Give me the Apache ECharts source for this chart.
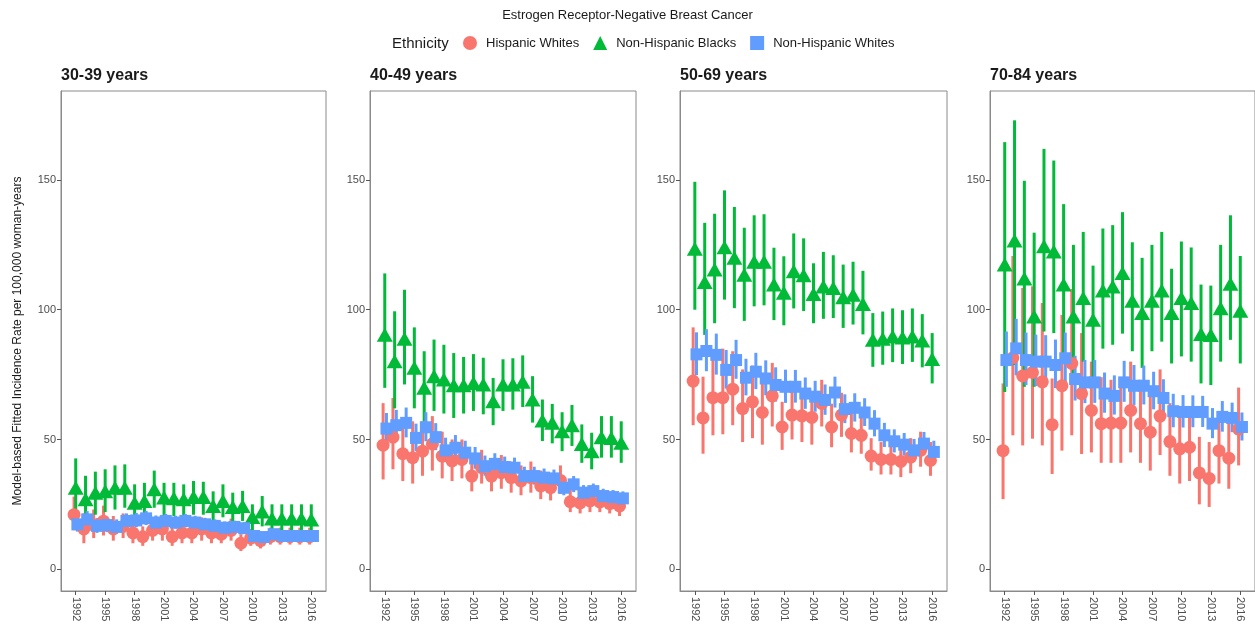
<!DOCTYPE html>
<html>
<head>
<meta charset="utf-8">
<script src="https://cdn.jsdelivr.net/npm/echarts@6/dist/echarts.min.js"></script>
<style>html,body{margin:0;padding:0;background:#fff;}#chart{width:1255px;height:629px;}</style>
</head>
<body>
<div id="chart"></div>
<script>
const years = [1992,1993,1994,1995,1996,1997,1998,1999,2000,2001,2002,2003,2004,2005,2006,2007,2008,2009,2010,2011,2012,2013,2014,2015,2016];
const xTickYears = [1992,1995,1998,2001,2004,2007,2010,2013,2016];
const yTicks = [0,50,100,150];
const panelTitles = ['30-39 years','40-49 years','50-69 years','70-84 years'];
const seriesNames = ['Hispanic Whites','Non-Hispanic Blacks','Non-Hispanic Whites'];

// 30-39 years
const hw30 = [21,15.5,17,18.5,15.5,16.5,14,12.5,15,15.5,12.5,14,14,15.5,14,13.5,15,10,12,11,12.5,12.5,12.5,12.5,12.5];
const hw30Lo = [15,10,12,13,11,12,10,9,11,11,9,10,10,11,10,10,11,7,9,8,9.5,9.5,9.5,9.5,9.5];
const hw30Hi = [28,21.5,23,24.5,20.5,21.5,18.5,16.5,19.5,20,16.5,18,18,20,18,17.5,19.5,13.5,15.5,14,16,16,16,16,16];
const nhb30 = [31.4,27,29.5,30,31.4,31.4,25.6,26.3,30.8,27.6,27.3,27,27.8,27.8,24.4,26.3,24,24.4,20.1,22.2,19.5,19.5,19.5,19.5,19.2];
const nhb30Lo = [22,20,21,22,23,23.7,18.6,19,23.7,20.5,20.5,20.5,21,21,18.6,20,18,18.6,14.7,16.5,14.7,14.7,14.7,14.7,14.7];
const nhb30Hi = [42.7,36,37.6,38.5,40,40.4,32.7,33.3,38,33.3,33.3,32.7,34,33.7,30,32.7,29.5,30.2,25,28.2,25,25,25,25,25];
const nhw30 = [17.3,19.2,16.7,17,16.3,18.6,18.8,19.6,18,18.6,18,18.6,18,17.3,16.7,16,16.3,15.8,12.8,12.4,13.5,12.8,12.8,12.8,12.8];
const nhw30Lo = [14.5,16.3,14,14.3,13.7,16,16.2,17,15.6,16.1,15.6,16.1,15.6,15,14.5,13.8,14.1,13.7,11,10.7,11.7,11,11.1,11.1,11.2];
const nhw30Hi = [20.4,22.4,19.7,20,19.2,21.5,21.7,22.5,20.7,21.3,20.6,21.3,20.6,19.8,19.2,18.4,18.7,18.1,14.8,14.3,15.5,14.7,14.7,14.7,14.6];

// 40-49 years
const hw40 = [47.8,50.9,44.5,43,45.5,48.3,43.6,41.7,42.3,35.9,39.1,35.9,37.2,35.3,34,35.3,32.1,31.4,34.2,26,25.6,26.3,25.9,25.3,24.4];
const hw40Lo = [34.6,38.5,34,33,36,38,35,34,35,30,33,30,31,29.5,28.5,29.5,27,26.5,29,22,21.5,22,22,21.5,20.5];
const hw40Hi = [64,66,58.3,57,57,59,53,50,50,42,46,42,44,41.5,40,41.5,38,37,40,30.5,30,30.8,30.3,29.5,28.5];
const nhb40 = [90.4,80.1,88.8,77.6,69.9,74.4,73.1,70.9,70.9,71.8,71.2,64.7,71.2,71.2,72.2,65.4,57.3,56.4,53.2,55.5,48.3,45.5,50.9,50.6,48.7];
const nhb40Lo = [69.9,62,71.2,62,57,61,60,58.3,60,61,59.7,55.5,61,61.5,62.5,56.5,49.4,48.5,45.5,47.5,41,38.5,43,43,41];
const nhb40Hi = [114,99.4,107.7,93.2,84,88.5,86.5,83.3,81.8,82.9,81.5,73.7,80.9,81.3,82.4,74.4,65.4,63.7,60.5,63.3,55.8,52.6,59,59,57];
const nhw40 = [54.2,55.5,56.4,50.6,54.7,50.9,45.8,46.8,44.9,42.7,39.7,40.6,39.4,39.1,35.9,35.9,35.3,35,31.4,32.7,29.5,30.1,28.2,27.8,27.3];
const nhw40Lo = [48.5,50,50.8,45.5,49.3,45.9,41.3,42.3,40.6,38.7,36,36.8,35.7,35.5,32.5,32.6,32,31.8,28.5,29.7,26.8,27.4,25.6,25.3,24.8];
const nhw40Hi = [60.2,61.4,62.3,56.1,60.5,56.3,50.7,51.7,49.5,47.1,43.8,44.7,43.4,43,39.5,39.5,38.8,38.4,34.5,35.9,32.4,33,31,30.5,30];

// 50-69 years
const hw50 = [72.5,58.3,66.1,66.1,69.4,61.9,64.5,60.4,66.8,54.8,59.4,59.1,58.5,63.9,54.8,59.4,52.3,51.6,43.6,42.3,42.3,41.5,43.2,45.8,41.9];
const hw50Lo = [55.5,44.5,51.6,52,55.5,49,50.5,48,55,46,50,49,48,55,47,51,45,44.5,38,36.5,36.5,35.5,37,39.5,36];
const hw50Hi = [93.2,74.2,84.5,85,84,77,78.5,75.7,79.5,64.5,69.6,69,68,73,63.8,68,61,60,50.5,49,49,48,50.5,53,49];
const nhb50 = [123.5,110.7,115.5,124.1,120,113.5,118.5,118.5,109.7,106.5,114.8,113.3,106.1,109,108.4,104.8,105.8,102.2,88.4,88.8,89.7,89.3,89.7,88.1,81];
const nhb50Lo = [100,90.3,94.8,103.9,100.6,95.7,101.3,101.7,96,94,100.5,99.5,94.8,96.5,96.8,93,94.3,90.5,78,78.8,79.8,79.1,79.9,77.8,71.6];
const nhb50Hi = [149.3,133.5,137,146,139.6,131.6,136.4,136.8,123.9,120.6,129.4,127.5,117.9,122.3,121,117.4,118.5,115,98.7,99.3,100.5,99.8,100.5,98.3,91];
const nhw50 = [82.8,84.1,82.6,76.8,80.6,73.8,76.1,73.5,71,70.3,70.3,67.7,66.5,65.2,68.1,61.7,62.2,60.4,56.1,51.6,49.3,48,45.8,48.4,45.2];
const nhw50Lo = [74.8,76.3,75,69.6,73.4,67,69.4,67,64.6,64.1,64.2,61.8,60.7,59.5,62.3,56.3,56.9,55.2,51.2,47.1,45,43.8,41.7,44.2,41.2];
const nhw50Hi = [91.3,92.5,90.8,84.5,88.4,81.1,83.4,80.5,77.8,76.9,76.8,73.9,72.6,71.2,74.2,67.4,67.8,65.9,61.3,56.4,53.9,52.5,50.2,52.9,49.5];

// 70-84 years
const hw70 = [45.7,81.5,74.5,75.8,72.2,55.7,70.7,79.3,67.7,61.2,56.1,56.3,56.3,61.2,56.1,52.8,59,49.2,46.4,47,37.1,35,45.7,42.8,54];
const hw70Lo = [27,51.6,47.7,50.3,47.7,36.7,45.7,51.6,44.4,45,41,41,41,45,41,38,44,36,33,34,25,24,33,31,40];
const hw70Hi = [71.6,120.7,108.4,109,102.6,73.5,98,108,91,80,74,73,73,80,73,70,77,64,61,62,51,49,61,58,70];
const nhb70 = [117.4,126.7,112,97.4,124.5,122.4,109.7,97.4,104.5,96.1,107.4,109,114.2,103.5,98.7,103.5,107.4,98.7,104.5,102.6,90.6,90.3,100.6,110,99.6];
const nhb70Lo = [68.3,78.7,70.3,70.3,91.6,91,80,72,80,71,85,86.5,90.8,84,77.6,84,87.7,79.3,82,80,71.6,71,80,88.4,79.3];
const nhb70Hi = [164.6,173,149.7,129.7,162,157.5,140.7,125,130,117,131.3,132.6,137.6,126,120,125,130,115.8,126.3,124,109.7,109.3,125,136.4,120.7];
const nhw70 = [80.6,85.1,80.6,80,80,78.7,81.3,73.3,72,72,67.7,66.8,72,70.7,70.7,68.6,66,60.9,60.6,60.6,60.6,56.1,58.7,58.3,54.8];
const nhw70Lo = [70.3,74.7,71,70.6,70.8,69.8,72.2,65,64,64.1,60.3,59.6,64.5,63.3,63.5,61.6,59.3,54.7,54.6,54.7,54.8,50.5,53,52.8,49.6];
const nhw70Hi = [91.6,96.5,91.2,90.4,90.2,88.5,91.2,82.3,80.7,80.6,75.8,74.7,80.3,78.7,78.5,76.1,73.2,67.6,67.1,67,66.8,62.1,64.8,64.2,60.4];

const panels = [
  [[hw30,hw30Lo,hw30Hi],[nhb30,nhb30Lo,nhb30Hi],[nhw30,nhw30Lo,nhw30Hi]],
  [[hw40,hw40Lo,hw40Hi],[nhb40,nhb40Lo,nhb40Hi],[nhw40,nhw40Lo,nhw40Hi]],
  [[hw50,hw50Lo,hw50Hi],[nhb50,nhb50Lo,nhb50Hi],[nhw50,nhw50Lo,nhw50Hi]],
  [[hw70,hw70Lo,hw70Hi],[nhb70,nhb70Lo,nhb70Hi],[nhw70,nhw70Lo,nhw70Hi]]
];

const colors = ['#F8766D','#00BA38','#619CFF'];
const symbols = ['circle','triangle','rect'];
const symbolSizes = [13,[16,14],12];
const dodge = [-0.17,0,0.17];
const gridLefts = [61,370,680,990];
const gridWidths = [265,266,267,266];
const FONT = '"Liberation Sans", Arial, sans-serif';

const chart = echarts.init(document.getElementById('chart'), null, {renderer:'canvas'});

const grids = [], xAxes = [], yAxes = [], series = [], titles = [];
titles.push({text:'Estrogen Receptor-Negative Breast Cancer', left:'center', top:9, padding:0,
  textStyle:{fontSize:13, fontWeight:'normal', color:'#1a1a1a', fontFamily:FONT}});
titles.push({text:'Ethnicity', left:392, top:36, padding:0,
  textStyle:{fontSize:15, fontWeight:'normal', color:'#1a1a1a', fontFamily:FONT}});

for (let p = 0; p < 4; p++) {
  grids.push({left:gridLefts[p], top:91, width:gridWidths[p], height:500, show:true,
    borderColor:'#8a8a8a', borderWidth:1, backgroundColor:'#fff'});
  titles.push({text:panelTitles[p], left:gridLefts[p], top:68, padding:0,
    textStyle:{fontSize:16, fontWeight:'bold', color:'#1a1a1a', fontFamily:FONT}});
  xAxes.push({type:'value', gridIndex:p, min:1990.5, max:2017.5,
    axisLine:{show:true, onZero:false, lineStyle:{color:'#8a8a8a'}},
    axisTick:{show:true, length:4, customValues:xTickYears, lineStyle:{color:'#555'}},
    axisLabel:{customValues:xTickYears, rotate:-90, margin:6, fontSize:11, color:'#4d4d4d', fontFamily:FONT,
      formatter:function(v){ return String(Math.round(v)); }},
    splitLine:{show:false}});
  yAxes.push({type:'value', gridIndex:p, min:-8.4, max:184.3,
    axisLine:{show:true, onZero:false, lineStyle:{color:'#8a8a8a'}},
    axisTick:{show:true, length:4, customValues:yTicks, lineStyle:{color:'#555'}},
    axisLabel:{customValues:yTicks, margin:5, fontSize:11, color:'#4d4d4d', fontFamily:FONT},
    splitLine:{show:false},
    name: p === 0 ? 'Model-based Fitted Incidence Rate per 100,000 woman-years' : '',
    nameLocation:'middle', nameGap:37,
    nameTextStyle:{fontSize:12, color:'#1a1a1a', fontFamily:FONT}});

  for (let s = 0; s < 3; s++) {
    const [val, lo, hi] = panels[p][s];
    const col = colors[s];
    series.push({
      type:'custom', name:seriesNames[s], xAxisIndex:p, yAxisIndex:p, z:2,
      itemStyle:{color:col},
      encode:{x:0, y:[1,2]},
      data: years.map((y,i)=>[y+dodge[s], lo[i], hi[i]]),
      renderItem: function(params, api){
        const a = api.coord([api.value(0), api.value(1)]);
        const b = api.coord([api.value(0), api.value(2)]);
        return {type:'line', shape:{x1:a[0], y1:a[1], x2:b[0], y2:b[1]},
          style:{stroke:col, lineWidth:3}};
      },
      silent:true
    });
  }
  for (let s = 0; s < 3; s++) {
    const val = panels[p][s][0];
    series.push({
      type:'scatter', name:seriesNames[s], xAxisIndex:p, yAxisIndex:p, z:3 + s,
      symbol:symbols[s], symbolSize:symbolSizes[s],
      itemStyle:{color:colors[s], opacity:1},
      data: years.map((y,i)=>[y+dodge[s], val[i]]),
      silent:true
    });
  }
}

chart.setOption({
  animation:false,
  backgroundColor:'#fff',
  textStyle:{fontFamily:FONT},
  title:titles,
  legend:{left:463, top:36, padding:0, itemWidth:14, itemHeight:14, itemGap:14,
    textStyle:{fontSize:13, color:'#1a1a1a', fontFamily:FONT, padding:[0,0,0,4]},
    data:seriesNames.map((n,i)=>({name:n, icon:symbols[i], itemStyle:{color:colors[i]}})),
    selectedMode:false},
  grid:grids, xAxis:xAxes, yAxis:yAxes, series:series
});
</script>
</body>
</html>
